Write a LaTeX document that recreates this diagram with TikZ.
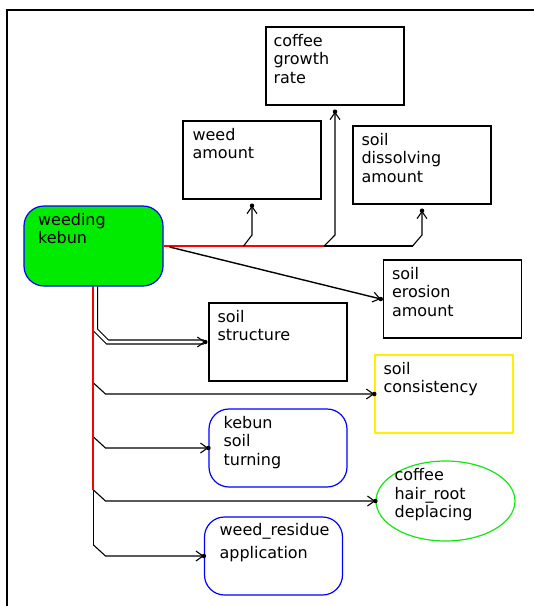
\documentclass[tikz,border=0pt]{standalone}
\usepackage{fontspec}
\setmainfont{DejaVu Sans}
\usetikzlibrary{arrows.meta,shapes.geometric,calc}

\definecolor{fillgreen}{RGB}{0,235,0}
\definecolor{ringgreen}{RGB}{20,230,20}
\definecolor{boxyellow}{RGB}{255,240,0}
\definecolor{linkred}{RGB}{255,0,0}

\tikzset{
  x=1pt, y=-1pt,
  box/.style={draw=black, line width=1.4pt, minimum width=138pt, minimum height=78pt, inner sep=0pt},
  rbox/.style={box, draw=blue, line width=1.2pt, rounded corners=20pt},
  ellbox/.style={ellipse, draw=ringgreen, line width=1.2pt, minimum width=139pt, minimum height=80pt, inner sep=0pt},
  txt/.style={anchor=north west, inner sep=0pt, align=left, font=\fontsize{16}{18.5}\selectfont},
  link/.style={line width=1.1pt, draw=black},
  redlink/.style={line width=1.8pt, draw=linkred},
  tip/.style={-{Straight Barb[length=7pt,width=10pt,line width=1.1pt]}},
  arr/.style={link, tip},
  dot/.style={circle, fill=black, inner sep=0pt, minimum size=4.5pt},
}

\begin{document}
\begin{tikzpicture}
\useasboundingbox (0,0) rectangle (534,606);
\fill[white] (0,0) rectangle (534,606);

% frame along the top and left edges
\draw[line width=2pt] (6.7,606) -- (6.7,9.8) -- (534,9.8);

% boxes
\node[box] (growth) at (335,66) {};
\node[box] (weedamt) at (252,160) {};
\node[box] (dissolve) at (422,165) {};
\node[rbox, fill=fillgreen, minimum width=139pt, minimum height=80pt] (kebun) at (93.5,246) {};
\node[box] (erosion) at (452.5,299) {};
\node[box] (structure) at (278,342) {};
\node[box, draw=boxyellow] (consist) at (444,394) {};
\node[rbox] (turning) at (278,448) {};
\node[ellbox] (hairroot) at (445.5,501) {};
\node[rbox] (residue) at (273.5,556) {};

% box texts
\node[txt] (growth-t) at ([shift={(8,7.5)}]growth.north west) {coffee\\growth\\rate};
\node[txt] (weedamt-t) at ([shift={(10,7.5)}]weedamt.north west) {weed\\amount};
\node[txt] (dissolve-t) at ([shift={(9,7.5)}]dissolve.north west) {soil\\dissolving\\amount};
\node[txt] (kebun-t) at ([shift={(14.5,7.5)}]kebun.north west) {weeding\\kebun};
\node[txt] (erosion-t) at ([shift={(9,7.5)}]erosion.north west) {soil\\erosion\\amount};
\node[txt] (structure-t) at ([shift={(9,7.5)}]structure.north west) {soil\\structure};
\node[txt] (consist-t) at ([shift={(9,7.5)}]consist.north west) {soil\\consistency};
\node[txt] (turning-t) at ([shift={(15,7.5)}]turning.north west) {kebun\\soil\\turning};
\node[txt] (hairroot-t) at ($(hairroot.west |- hairroot.north)+(19,8)$) {coffee\\hair\_root\\deplacing};
\node[txt] (residue-t) at ([shift={(15.5,7)}]residue.north west) {weed\_residue\\[4pt]application};

% arrow ends (tip dots sit on these)
\coordinate (ew) at ($(weedamt.south)+(0,6)$);
\coordinate (eg) at ($(growth.south)+(0,6)$);
\coordinate (ed) at ($(dissolve.south)+(0,6)$);
\coordinate (ee) at ($(erosion.west)+(-2,0)$);
\coordinate (es) at ($(structure.west)+(-3,0)$);

% junctions on the upper line
\coordinate (jw) at ($(kebun.east)+(80,0)$);
\coordinate (jg) at ($(kebun.east)+(160.5,0)$);
\coordinate (jd) at ($(kebun.east)+(249,0)$);

\draw[redlink, line width=1.4pt] (kebun.east) -- (jg);
\draw[link] (jg) -- (jd);
\draw[arr] (jw) -- ($(ew |- jw)+(0,-11)$) -- (ew);
\draw[arr] (jg) -- ($(eg |- jg)+(0,-11)$) -- (eg);
\draw[arr] (jd) -- ($(ed |- jd)+(0,-11)$) -- (ed);

% slanted link to the erosion box
\draw[arr, line width=1.4pt] ([shift={(6,1)}]kebun.east) -- (ee);

% double link to the structure box
\draw[line width=1.1pt, double=white, double distance=2.9pt, tip]
  ($(kebun.south)+(2,0)$) -- ($(structure.west -| kebun.south)+(2,-12)$)
  -- ($(structure.west -| kebun.south)+(14,0)$) -- (es);

% branches off the downward trunk
\foreach \tgt in {consist, turning, hairroot, residue}{
  \draw[arr] ($(\tgt.west -| kebun.south)+(0,-11)$) -- ($(\tgt.west -| kebun.south)+(12,0)$) -- (\tgt.west);
  \node[dot] (\tgt-dot) at (\tgt.west) {};
}
\foreach \e in {ew, eg, ed, ee, es}{
  \node[dot] (\e-dot) at (\e) {};
}

% downward trunk: red part, then black part
\draw[link] (kebun.south) ++(0,203) -- ++(0,56);
\draw[redlink] ([xshift=-0.3pt]kebun.south) -- ++(0,203);
\end{tikzpicture}
\end{document}
